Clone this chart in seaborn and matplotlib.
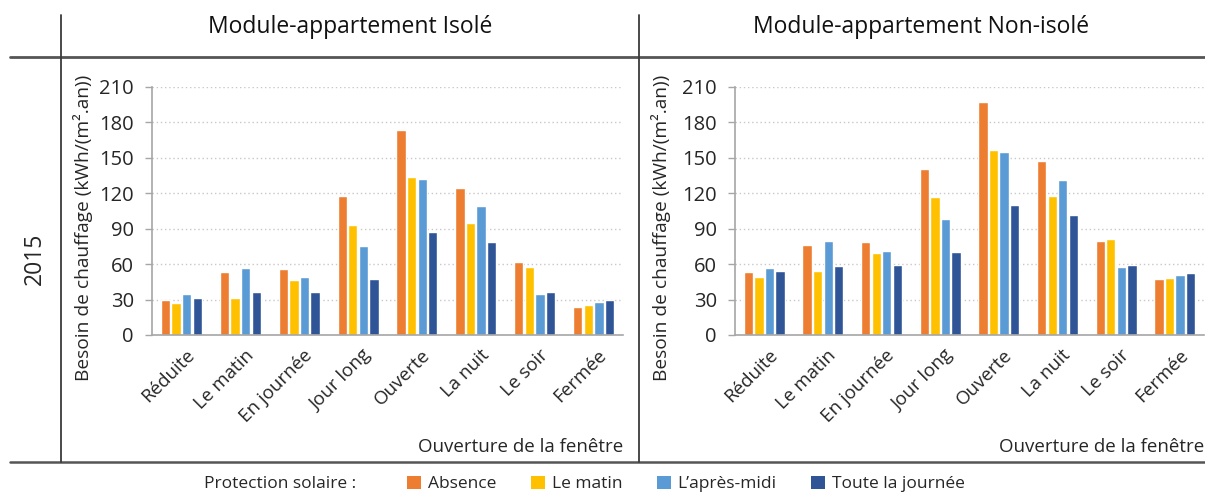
import numpy as np
import pandas as pd
import matplotlib
matplotlib.use("Agg")
import matplotlib.pyplot as plt
import matplotlib.transforms as mtransforms
from matplotlib.lines import Line2D
from matplotlib.patches import Patch
import seaborn as sns

# ---- data -------------------------------------------------------------
ouvertures = ["Réduite", "Le matin", "En journée", "Jour long",
              "Ouverte", "La nuit", "Le soir", "Fermée"]
protections = ["Absence", "Le matin", "L’après-midi", "Toute la journée"]

# heating need, kWh/(m².an), one list per solar-protection schedule
isole_absence = [30, 53, 55.5, 117.5, 174, 124.5, 62, 24]
isole_matin = [27, 31, 46.5, 93.5, 133.5, 94.5, 58, 25]
isole_apres_midi = [34.5, 57, 49, 75.5, 132, 109, 35, 28]
isole_journee = [31.5, 36, 36, 47.5, 87.5, 78.5, 36.5, 30]

non_isole_absence = [53, 76, 78.5, 140.5, 197, 147.5, 79.5, 47]
non_isole_matin = [49.5, 54, 69.5, 116.5, 156.5, 117.5, 81, 48]
non_isole_apres_midi = [57, 80, 71.5, 98.5, 155, 131.5, 57.5, 51]
non_isole_journee = [54.5, 58.5, 59, 70.5, 110.5, 101.5, 59, 52.5]

panel_titles = ["Module-appartement Isolé", "Module-appartement Non-isolé"]
row_label = "2015"
y_label = "Besoin de chauffage (kWh/(m².an))"
x_label = "Ouverture de la fenêtre"
legend_title = "Protection solaire :"
y_ticks = [0, 30, 60, 90, 120, 150, 180, 210]

palette = ["#ED7D31", "#FFC000", "#5B9BD5", "#2F5597"]


def long_table(series):
    rows = []
    for prot, values in zip(protections, series):
        for cat, v in zip(ouvertures, values):
            rows.append({"ouverture": cat, "protection": prot, "besoin": v})
    return pd.DataFrame(rows)


tables = [
    long_table([isole_absence, isole_matin, isole_apres_midi, isole_journee]),
    long_table([non_isole_absence, non_isole_matin, non_isole_apres_midi,
                non_isole_journee]),
]

# ---- style ------------------------------------------------------------
sns.set_theme(style="white")
plt.rcParams["font.family"] = ["Open Sans", "DejaVu Sans"]

W, H = 1205, 504
fig = plt.figure(figsize=(W / 100, H / 100), dpi=100)


def fx(px):
    return px / W


def fy(py):
    return 1 - py / H


axes_px = [(152, 623), (735, 1204)]
title_x = [350, 921]
y_top, y_bottom = 87, 335
label_x = [-0.126, -0.136]

text_dark = "#262626"
axis_grey = "#A6A6A6"

# nudge rotated category labels slightly right of the group centre
label_shift = mtransforms.ScaledTranslation(4 / 100, 0, fig.dpi_scale_trans)

for (x0, x1), df, title, tx, lx in zip(axes_px, tables, panel_titles,
                                       title_x, label_x):
    ax = fig.add_axes([fx(x0), fy(y_bottom), fx(x1 - x0),
                       (y_bottom - y_top) / H])
    sns.barplot(data=df, x="ouverture", y="besoin", hue="protection",
                order=ouvertures, hue_order=protections, palette=palette,
                width=0.72, gap=0.12, errorbar=None, legend=False,
                saturation=1, ax=ax)
    ax.set_xlim(-0.5, len(ouvertures) - 0.5)
    ax.set_ylim(0, 210)
    ax.set_yticks(y_ticks)
    ax.grid(axis="y", color="#C8C8C8", linestyle=(0, (1, 2)), linewidth=1)
    ax.set_axisbelow(True)
    for side in ("top", "right"):
        ax.spines[side].set_visible(False)
    for side in ("left", "bottom"):
        ax.spines[side].set_color(axis_grey)
        ax.spines[side].set_linewidth(1.2)
    ax.tick_params(axis="y", left=True, length=5, width=1, color=axis_grey,
                   labelsize=14.5, labelcolor=text_dark, pad=8)
    ax.tick_params(axis="x", bottom=False, labelsize=13.5,
                   labelcolor=text_dark, pad=2)
    for lbl in ax.get_xticklabels():
        lbl.set_rotation(45)
        lbl.set_ha("right")
        lbl.set_rotation_mode("anchor")
        lbl.set_transform(lbl.get_transform() + label_shift)
    ax.set_xlabel("")
    ax.set_ylabel(y_label, fontsize=13.8, color=text_dark)
    ax.yaxis.set_label_coords(lx, 0.43)
    ax.text(1.0, -0.45, x_label, transform=ax.transAxes, ha="right",
            va="center", fontsize=13.5, color=text_dark)
    fig.text(fx(tx), fy(27), title, ha="center", va="center",
             fontsize=16.5, color="#111111")

# table frame around the two panels
frame = "#3A3A3A"
fig.add_artist(Line2D([fx(10), 1], [fy(56.5), fy(56.5)], color="#555555",
                      linewidth=2.0))
fig.add_artist(Line2D([fx(10), 1], [fy(462), fy(462)], color="#555555",
                      linewidth=1.8))
for xv in (61, 639):
    fig.add_artist(Line2D([fx(xv), fx(xv)], [fy(15), fy(462)], color=frame,
                          linewidth=1.3))

fig.text(fx(35), fy(259), row_label, rotation=90, ha="center", va="center",
         fontsize=16.5, color=text_dark)

# legend row
handles = [Patch(facecolor=c, edgecolor="none") for c in palette]
fig.text(fx(280), fy(484), legend_title, ha="center", va="center",
         fontsize=12.5, color=text_dark)
fig.legend(handles, protections, loc="center", ncol=4,
           bbox_to_anchor=(fx(686), fy(484)), frameon=False, fontsize=12.5,
           handlelength=0.8, handleheight=0.8, handletextpad=0.4,
           columnspacing=2.0, labelcolor=text_dark)

fig.savefig("out.png", dpi=100, facecolor="white")
